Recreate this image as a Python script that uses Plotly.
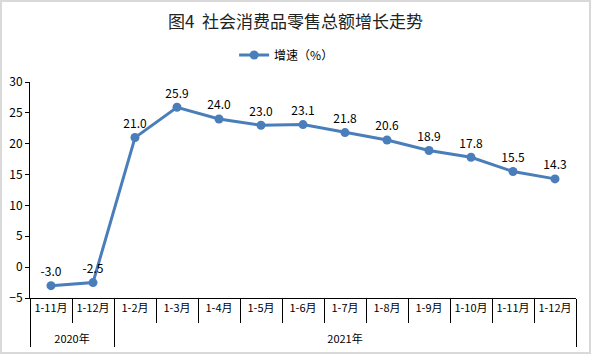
import plotly.graph_objects as go

years = ["2020年", "2020年"] + ["2021年"] * 11
months = ["1-11月", "1-12月", "1-2月", "1-3月", "1-4月", "1-5月", "1-6月",
          "1-7月", "1-8月", "1-9月", "1-10月", "1-11月", "1-12月"]
growth = [-3.0, -2.5, 21.0, 25.9, 24.0, 23.0, 23.1, 21.8, 20.6, 18.9, 17.8, 15.5, 14.3]
labels = [f"{v:.1f}" for v in growth]

# keep repeated month names distinct per year (zero-width marker for 2021);
# a small blank second line gives the year row the reference's spacing
month_keys = [(m if y == "2020年" else m + "\u200b") +
              "<br><span style='font-size:7px'> </span>"
              for y, m in zip(years, months)]

color = "#4a7ebb"
font = "Noto Sans CJK SC, Microsoft YaHei, sans-serif"

fig = go.Figure()
fig.add_trace(go.Scatter(
    x=[years, month_keys], y=growth, mode="lines+markers+text",
    name="增速（%）", text=labels, textposition="top center",
    textfont=dict(size=12, color="#000000", family=font),
    line=dict(color=color, width=3),
    marker=dict(color=color, size=9),
    cliponaxis=False,
))

W, H = 591, 354
ml, mr, mt, mb = 30, 15, 82, 56
pw, ph = W - ml - mr, H - mt - mb

fig.update_layout(
    width=W, height=H,
    margin=dict(l=ml, r=mr, t=mt, b=mb, autoexpand=False),
    paper_bgcolor="white", plot_bgcolor="white",
    font=dict(family=font, size=11, color="#000000"),
    title=dict(text="图4  社会消费品零售总额增长走势", x=0.5, xanchor="center",
               y=1 - 22 / H, yanchor="middle",
               font=dict(size=17, family=font, color="#222222")),
    showlegend=True,
    legend=dict(orientation="h", x=0.47, xanchor="center", y=1 + (mt - 55) / ph,
                yanchor="middle", font=dict(size=12, family=font)),
    xaxis=dict(type="multicategory", showline=True, linecolor="#000000", linewidth=1,
               range=[-0.5, len(months) - 0.5],
               ticks="outside", ticklen=24, tickcolor="#000000", tickwidth=1,
               tickangle=0, automargin=False,
               showdividers=True, dividercolor="#000000", dividerwidth=1,
               showgrid=False, tickfont=dict(size=11, family=font)),
    yaxis=dict(range=[-5, 30], dtick=5, showline=True, linecolor="#000000",
               linewidth=1, ticks="outside", ticklen=4, tickcolor="#000000",
               automargin=False,
               showgrid=False, zeroline=False, tickfont=dict(size=12, family=font)),
    shapes=[dict(type="rect", xref="paper", yref="paper",
                 x0=-(ml - 1) / pw, x1=1 + (mr - 1) / pw,
                 y0=-(mb - 1) / ph, y1=1 + (mt - 1) / ph,
                 line=dict(color="#d9d9d9", width=2), layer="below")],
)

fig.write_html("out.html")
